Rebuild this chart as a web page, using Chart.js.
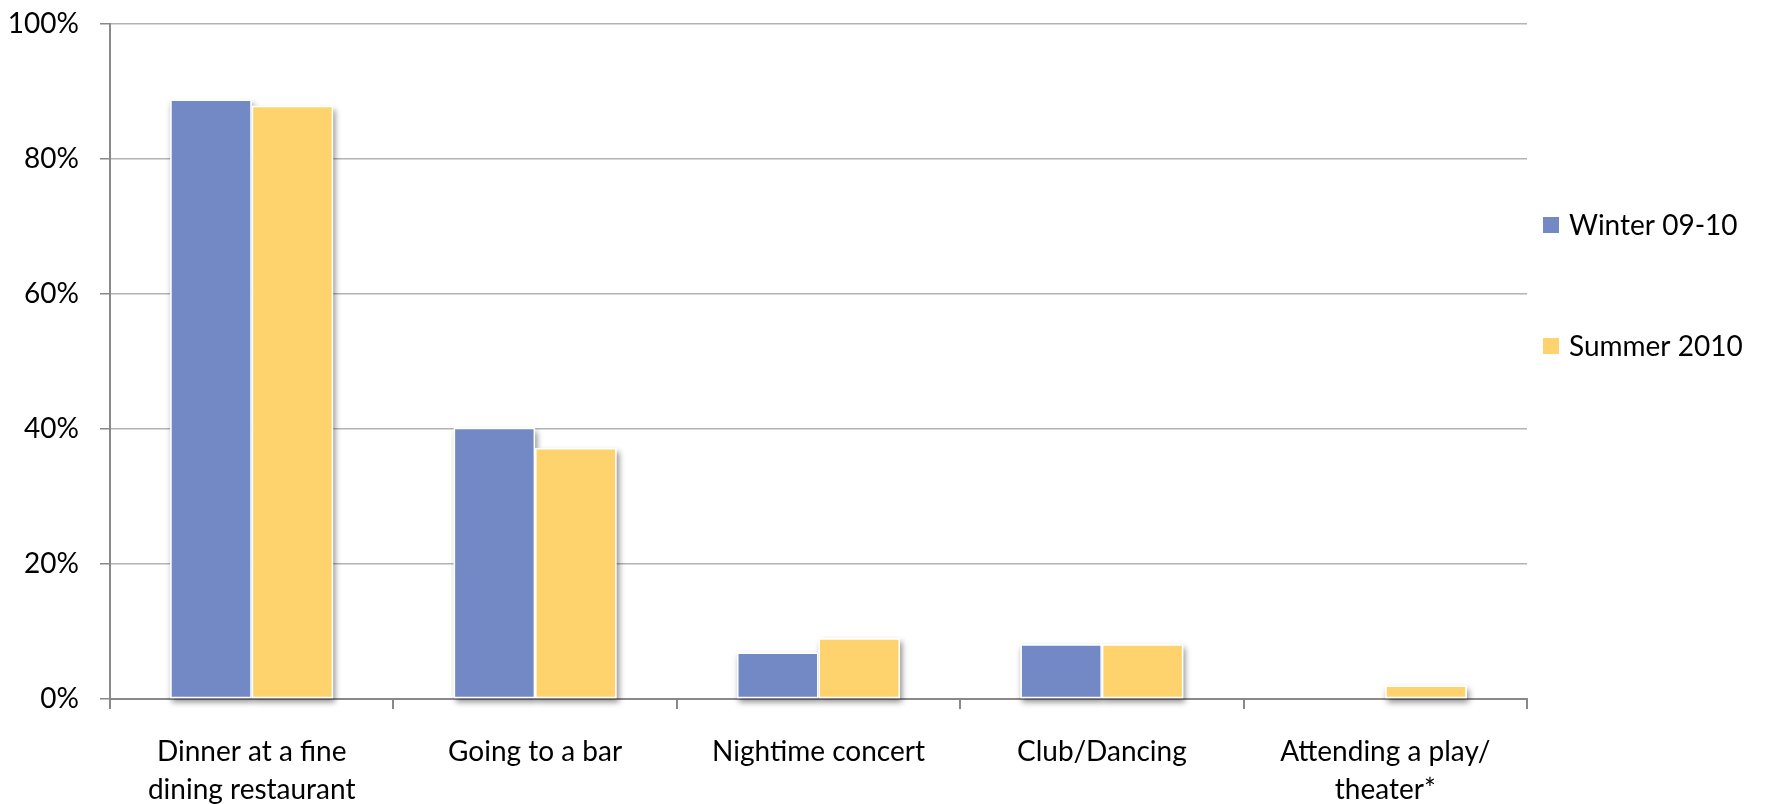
<!DOCTYPE html>
<html>
<head>
<meta charset="utf-8">
<script src="https://cdn.jsdelivr.net/npm/chart.js@4.4.1/dist/chart.umd.min.js"></script>
<style>
  html, body { margin: 0; padding: 0; background: #fff; }
  #wrap { width: 1767px; height: 804px; position: relative; }
</style>
</head>
<body>
<div id="wrap"><canvas id="chart"></canvas></div>
<script>
const categories = [
  ["Dinner at a fine", "dining restaurant"],
  "Going to a bar",
  "Nightime concert",
  "Club/Dancing",
  ["Attending a play/", "theater*"]
];
const winter = [88.8, 40.2, 6.9, 8.1, 0];
const summer = [87.9, 37.2, 9.0, 8.1, 2.0];
const seriesNames = ["Winter 09-10", "Summer 2010"];
const seriesColors = ["#7289c6", "#fed36e"];
const yTicks = [0, 20, 40, 60, 80, 100];

const FONT = "Lato";
const AXIS_GRAY = "#898989";
const GRID_GRAY = "#b3b3b6";

// soft drop shadow under every bar, painted before the bars themselves
const barShadow = {
  id: "barShadow",
  beforeDatasetsDraw(chart) {
    const ctx = chart.ctx;
    ctx.save();
    ctx.shadowColor = "rgba(0,0,0,0.45)";
    ctx.shadowBlur = 6;
    ctx.shadowOffsetX = 2;
    ctx.shadowOffsetY = 4;
    ctx.fillStyle = "#fff";
    chart.data.datasets.forEach((ds, i) => {
      chart.getDatasetMeta(i).data.forEach(bar => {
        const h = bar.base - bar.y;
        if (h <= 0) return;
        ctx.fillRect(bar.x - bar.width / 2, bar.y, bar.width, h);
      });
    });
    ctx.restore();
  }
};

// legend on the right, one row per series with wide spacing
const sideLegend = {
  id: "sideLegend",
  afterDraw(chart) {
    const ctx = chart.ctx;
    const x = 1543, rows = [225, 346], box = 16;
    ctx.save();
    ctx.font = "28px " + FONT;
    ctx.textBaseline = "middle";
    chart.data.datasets.forEach((ds, i) => {
      ctx.fillStyle = ds.backgroundColor;
      ctx.fillRect(x, rows[i] - box / 2, box, box);
      ctx.fillStyle = "#000";
      ctx.fillText(ds.label, x + box + 10, rows[i] + 1);
    });
    ctx.restore();
  }
};

Chart.defaults.font.family = FONT;
Chart.defaults.font.size = 28;
Chart.defaults.color = "#000";

new Chart(document.getElementById("chart"), {
  type: "bar",
  data: {
    labels: categories,
    datasets: [
      { label: seriesNames[0], data: winter, backgroundColor: seriesColors[0] },
      { label: seriesNames[1], data: summer, backgroundColor: seriesColors[1] }
    ]
  },
  options: {
    responsive: true,
    maintainAspectRatio: false,
    animation: false,
    layout: { padding: { top: 24, right: 240, left: 0, bottom: 0 } },
    datasets: {
      bar: {
        categoryPercentage: 0.575,
        barPercentage: 1.0,
        borderWidth: 1.5,
        borderColor: "rgba(255,255,255,0.95)",
        borderSkipped: false,
        clip: false
      }
    },
    plugins: {
      legend: { display: false },
      tooltip: { enabled: false }
    },
    scales: {
      x: {
        z: 1,
        afterFit: s => { s.height = 105; s.paddingLeft = 0; s.paddingRight = 0; },
        grid: {
          offset: true,
          drawOnChartArea: false,
          drawTicks: true,
          tickLength: 10,
          color: AXIS_GRAY,
          lineWidth: 2
        },
        border: { color: AXIS_GRAY, width: 2 },
        ticks: { padding: 24, maxRotation: 0, font: { size: 28, lineHeight: 1.36 } }
      },
      y: {
        min: 0,
        max: 100,
        afterFit: s => { s.width = 110; s.paddingTop = 0; s.paddingBottom = 0; },
        afterBuildTicks: s => { s.ticks = yTicks.map(v => ({ value: v })); },
        grid: {
          color: GRID_GRAY,
          tickColor: AXIS_GRAY,
          lineWidth: 1.5,
          tickLength: 10
        },
        border: { color: AXIS_GRAY, width: 2 },
        ticks: { padding: 21, callback: v => v + "%" }
      }
    }
  },
  plugins: [barShadow, sideLegend]
});
</script>
</body>
</html>
